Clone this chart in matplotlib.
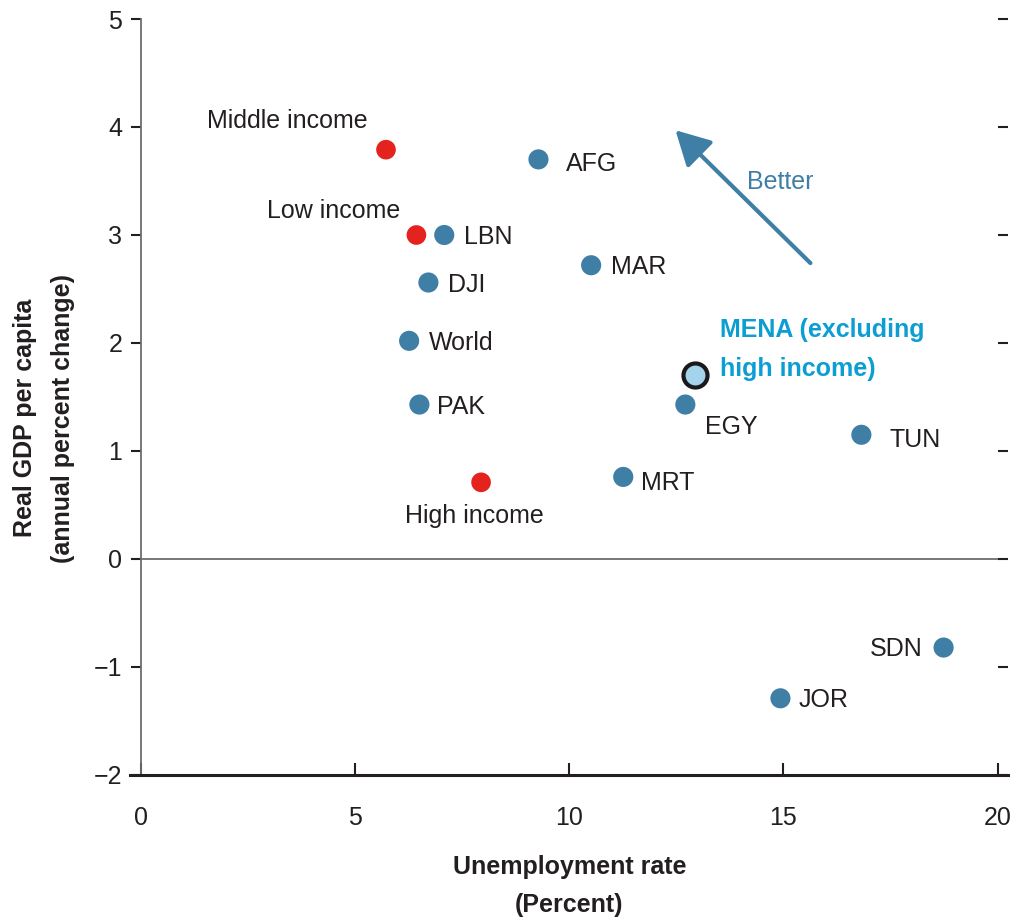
import numpy as np
import matplotlib
matplotlib.use("Agg")
import matplotlib.pyplot as plt

plt.rcParams['font.family'] = ['Liberation Sans', 'DejaVu Sans']

# data
countries = ['AFG', 'LBN', 'DJI', 'World', 'PAK', 'MAR', 'EGY', 'TUN', 'MRT', 'SDN', 'JOR']
unemp = [9.28, 7.08, 6.71, 6.26, 6.50, 10.51, 12.71, 16.82, 11.26, 18.74, 14.93]
gdp = [3.70, 3.00, 2.56, 2.02, 1.43, 2.72, 1.43, 1.15, 0.76, -0.82, -1.29]

groups = ['Middle income', 'Low income', 'High income']
grp_unemp = [5.72, 6.43, 7.94]
grp_gdp = [3.79, 3.00, 0.71]

mena_label = 'MENA (excluding\nhigh income)'
mena_unemp = [12.94]
mena_gdp = [1.70]

xticks = [0, 5, 10, 15, 20]
yticks = [-2, -1, 0, 1, 2, 3, 4, 5]

# label offsets (points) and alignment
lab_off = {'AFG': (20, -3, 'left'), 'LBN': (14, -1.5, 'left'), 'DJI': (14, -1.5, 'left'),
           'World': (14, -1.5, 'left'), 'PAK': (13, -2, 'left'), 'MAR': (14, -1.5, 'left'),
           'EGY': (14.5, -16.5, 'left'), 'TUN': (20, -3.6, 'left'), 'MRT': (13, -4.3, 'left'),
           'SDN': (-15, -0.7, 'right'), 'JOR': (13, -1.5, 'left')}
grp_off = {'Middle income': (-13, 20.5, 'right'), 'Low income': (-11.5, 17, 'right'),
           'High income': (-5, -24.5, 'center')}

BLUE = '#3f7fa6'
RED = '#e5231e'
DARK = '#231f20'
FS = 18

fig = plt.figure(figsize=(10.11, 9.18), dpi=100)
ax = fig.add_axes([0.1395, 0.1558, 0.8472, 0.8235])
ax.set_xlim(0, 20)
ax.set_ylim(-2, 5)

ax.axhline(0, color='#6d6d6d', lw=1.3, zorder=1)

ax.scatter(unemp, gdp, s=210, color=BLUE, edgecolors='none', zorder=3)
ax.scatter(grp_unemp, grp_gdp, s=200, color=RED, edgecolors='none', zorder=3)
ax.scatter(mena_unemp, mena_gdp, s=300, color='#a5d3eb', edgecolors='#1a1a1a',
           linewidths=3, zorder=4)

for c, x, y in zip(countries, unemp, gdp):
    dx, dy, ha = lab_off[c]
    ax.annotate(c, (x, y), xytext=(dx, dy), textcoords='offset points',
                ha=ha, va='center', fontsize=FS, color=DARK)
for g, x, y in zip(groups, grp_unemp, grp_gdp):
    dx, dy, ha = grp_off[g]
    ax.annotate(g, (x, y), xytext=(dx, dy), textcoords='offset points',
                ha=ha, va='center', fontsize=FS, color=DARK)
ax.annotate(mena_label, (mena_unemp[0], mena_gdp[0]), xytext=(18, 18.5),
            textcoords='offset points', ha='left', va='center', fontsize=FS,
            fontweight='bold', color='#0c9ed2', linespacing=1.8)

# "Better" arrow
ax.annotate('', xy=(12.48, 3.97), xytext=(15.63, 2.74),
            arrowprops=dict(arrowstyle='-|>,head_length=0.7,head_width=0.38',
                            lw=3, color=BLUE, mutation_scale=30, shrinkA=0, shrinkB=0))
ax.text(14.93, 3.49, 'Better', fontsize=FS, color=BLUE, ha='center', va='center')

# axes styling
for s in ['top', 'right']:
    ax.spines[s].set_visible(False)
ax.spines['left'].set_color('#6d6d6d')
ax.spines['left'].set_linewidth(1.3)
ax.spines['bottom'].set_color(DARK)
ax.spines['bottom'].set_linewidth(2.2)
ax.spines['bottom'].set_bounds(-0.25, 20.25)

ax.set_xticks(xticks)
ax.set_yticks(yticks)
ax.set_yticklabels([str(t).replace('-', '\u2212') for t in yticks])
ax.tick_params(axis='x', direction='in', length=9, width=1.5, color=DARK,
               labelsize=FS, labelcolor=DARK, pad=22)
ax.tick_params(axis='y', direction='out', length=7.5, width=1.5, color=DARK,
               labelsize=FS, labelcolor=DARK, pad=6, right=True, labelright=False)

ax.set_xlabel('Unemployment rate\n(Percent)', fontsize=FS, fontweight='bold',
              color=DARK, linespacing=1.7)
ax.xaxis.set_label_coords(0.5, -0.147)
ax.xaxis.label.set_va('center')
ax.set_ylabel('Real GDP per capita\n(annual percent change)', fontsize=FS,
              fontweight='bold', color=DARK, linespacing=1.75)
ax.yaxis.set_label_coords(-0.113, 0.472)
ax.yaxis.label.set_va('center')

fig.savefig('out.png', dpi=100)
